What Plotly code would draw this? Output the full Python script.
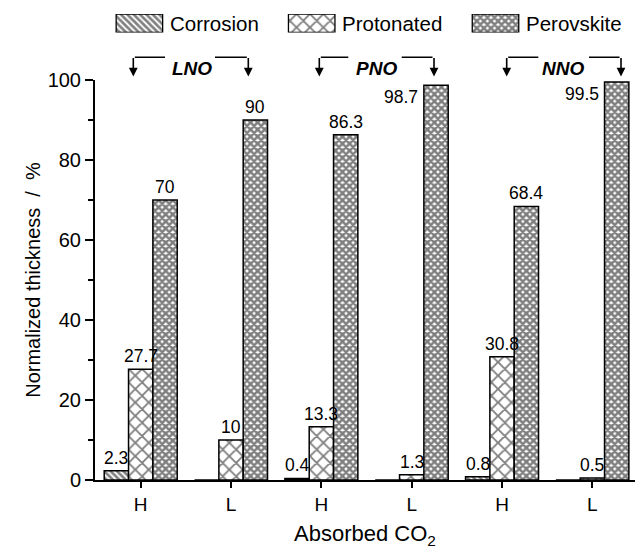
import plotly.graph_objects as go

# ---- data ----
categories = ["H", "L", "H", "L", "H", "L"]
corrosion = [2.3, 0, 0.4, 0, 0.8, 0]
protonated = [27.7, 10, 13.3, 1.3, 30.8, 0.5]
perovskite = [70, 90, 86.3, 98.7, 68.4, 99.5]
series_names = ["Corrosion", "Protonated", "Perovskite"]
materials = ["LNO", "PNO", "NNO"]

FONT = "Liberation Sans, Arial, sans-serif"
W, H = 635, 560
ML, MR, MT, MB = 95, 0, 0, 80
PLOT_H_PX = H - MT - MB  # 480
main_top_px = 80
y_dom_top = (PLOT_H_PX - main_top_px) / PLOT_H_PX

x = list(range(len(categories)))
xr = [-0.506, 5.472]
px_per_unit = (W - ML - MR) / (xr[1] - xr[0])

def px2x(px):
    return xr[0] + (px - ML) / px_per_unit

def py2paper(py):
    return (PLOT_H_PX - py) / PLOT_H_PX

patterns = [
    dict(shape="\\", size=4.5, solidity=0.6, fgcolor="black", bgcolor="white"),
    dict(shape="x", size=9.5, solidity=0.35, fgcolor="black", bgcolor="white"),
    dict(shape="x", size=5, solidity=0.75, fgcolor="black", bgcolor="white"),
]
series = [corrosion, protonated, perovskite]

fig = go.Figure()
for name, vals, pat in zip(series_names, series, patterns):
    fig.add_trace(go.Bar(
        x=x, y=vals, name=name,
        marker=dict(color="white", pattern=pat, line=dict(color="black", width=1.5)),
        showlegend=False, cliponaxis=False,
    ))

# ---- custom legend swatches (second axis in the top margin region) ----
legend_centers_px = [139.4, 311.7, 495.5]
legend_w_px = 46.5
for name, pat, cx in zip(series_names, patterns, legend_centers_px):
    fig.add_trace(go.Bar(
        x=[cx], y=[1], width=[legend_w_px], xaxis="x2", yaxis="y2",
        marker=dict(color="white", pattern=pat, line=dict(color="black", width=1.3)),
        showlegend=False, hoverinfo="skip",
    ))
    fig.add_annotation(x=cx + legend_w_px / 2 + 5, y=py2paper(23.5), xref="x2", yref="paper",
                       text=name, showarrow=False, xanchor="left", yanchor="middle",
                       font=dict(family=FONT, size=20.5, color="black"))

# ---- value labels ----
bar_w = 0.2694
offsets = [-bar_w, 0, bar_w]
def fmt(v):
    return f"{v:g}"

for si, vals in enumerate(series):
    for i, v in enumerate(vals):
        if v == 0:
            continue
        xc = x[i] + offsets[si]
        if v > 95:
            fig.add_annotation(x=xc - bar_w / 2, y=v - 3, xref="x", yref="y", text=fmt(v),
                               showarrow=False, xanchor="right", yanchor="middle", xshift=-4,
                               font=dict(family=FONT, size=17.5, color="black"))
        else:
            fig.add_annotation(x=xc, y=v, xref="x", yref="y", text=fmt(v),
                               showarrow=False, xanchor="center", yanchor="bottom", yshift=1,
                               font=dict(family=FONT, size=17.5, color="black"))

# ---- group brackets ----
brackets = [
    # left arrow px, right arrow px, text center px, left line end px, right line start px
    (133.3, 248.3, 192.0, 165.0, 215.0),
    (319.3, 434.0, 376.7, 348.3, 401.7),
    (506.7, 621.0, 563.0, 538.3, 589.0),
]
line_y = py2paper(57.3)
tip_y = py2paper(76.5)
for mat, (lx, rx, tx, le, rs) in zip(materials, brackets):
    fig.add_annotation(x=px2x(tx), y=py2paper(56.5), xref="x", yref="paper",
                       text=f"<b><i>{mat}</i></b>", showarrow=False,
                       font=dict(family=FONT, size=19, color="black"))
    for ax_, x_end in [(lx, le), (rx, rs)]:
        # horizontal segment
        fig.add_annotation(x=px2x(x_end), y=line_y, xref="x", yref="paper",
                           ax=px2x(ax_), ay=0, axref="x", ayref="pixel",
                           showarrow=True, arrowhead=0, arrowwidth=1.6, arrowcolor="black",
                           text="", standoff=0, startstandoff=0)
        # vertical arrow
        fig.add_annotation(x=px2x(ax_), y=tip_y, xref="x", yref="paper",
                           ax=0, ay=-(76.5 - 57.3) - 0.8, showarrow=True, arrowhead=2,
                           arrowsize=1.1, arrowwidth=1.6, arrowcolor="black", text="",
                           standoff=0, startstandoff=0)

fig.update_layout(
    width=W, height=H,
    margin=dict(l=ML, r=MR, t=MT, b=MB, autoexpand=False),
    paper_bgcolor="white", plot_bgcolor="white",
    barmode="group", bargap=0.192, bargroupgap=0,
    font=dict(family=FONT, size=19, color="black"),
    xaxis=dict(
        range=xr, tickvals=x, ticktext=categories,
        showline=True, linecolor="black", linewidth=2,
        ticks="outside", ticklen=6, tickwidth=1.5, tickcolor="black",
        showgrid=False, zeroline=False, automargin=False,
        tickfont=dict(family=FONT, size=19),
        title=dict(text="Absorbed CO<sub>2</sub>", font=dict(family=FONT, size=22), standoff=12),
        domain=[0, 1],
    ),
    yaxis=dict(
        range=[0, 100], dtick=20,
        showline=True, linecolor="black", linewidth=2,
        ticks="outside", ticklen=8, tickwidth=1.5, tickcolor="black",
        minor=dict(dtick=10, ticks="outside", ticklen=5, tickwidth=1.5, tickcolor="black"),
        showgrid=False, zeroline=False, automargin=False,
        tickfont=dict(family=FONT, size=20),
        title=dict(text="Normalized thickness  /  %", font=dict(family=FONT, size=20), standoff=2),
        domain=[0, y_dom_top],
    ),
    xaxis2=dict(domain=[0, 1], range=[ML, W - MR], visible=False, fixedrange=True,
                anchor="y2", automargin=False),
    yaxis2=dict(domain=[py2paper(32.5), py2paper(14)], range=[0, 1], visible=False,
                fixedrange=True, anchor="x2", automargin=False),
)

fig.write_html("out.html")
